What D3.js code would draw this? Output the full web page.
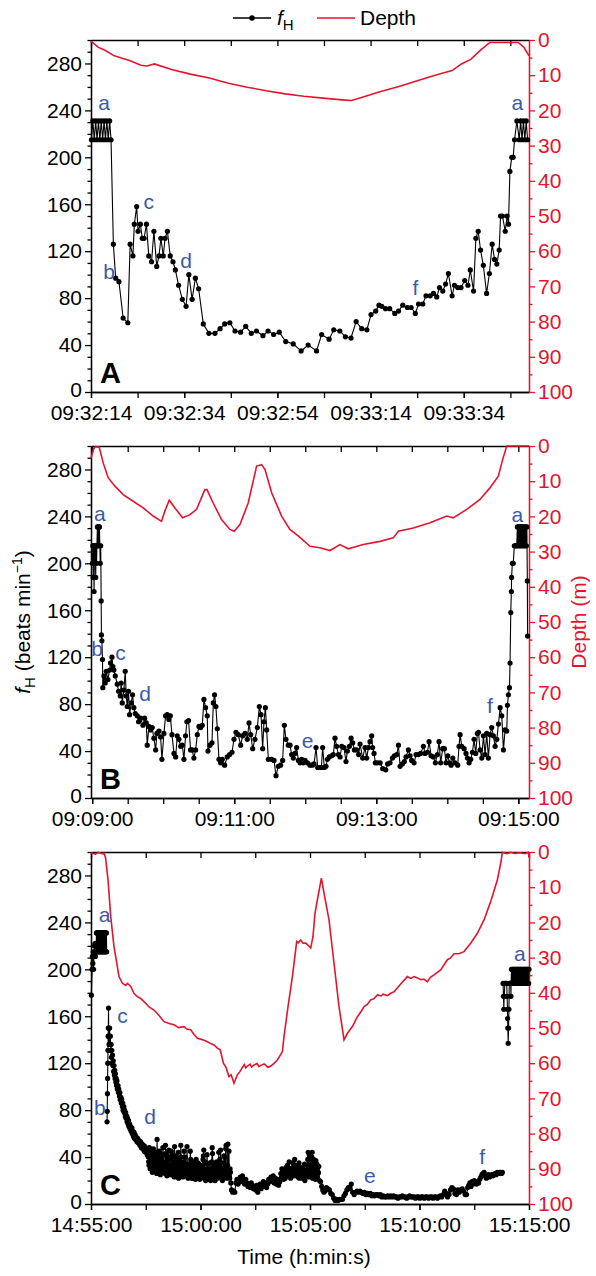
<!DOCTYPE html>
<html>
<head>
<meta charset="utf-8">
<script src="https://cdn.jsdelivr.net/npm/d3@7"></script>
<style>
body { margin: 0; background: #fff; }
svg text { font-family: "Liberation Sans", Arial, Helvetica, sans-serif; }
</style>
</head>
<body>
<div id="container"></div>
<script>
// tick labels (clock time) for each panel
var timeA = ["09:32:14", "09:32:34", "09:32:54", "09:33:14", "09:33:34"];
var timeB = ["09:09:00", "09:11:00", "09:13:00", "09:15:00"];
var timeC = ["14:55:00", "15:00:00", "15:05:00", "15:10:00", "15:15:00"];
var fhTicks = [0, 40, 80, 120, 160, 200, 240, 280];
var depthTicks = [0, 10, 20, 30, 40, 50, 60, 70, 80, 90, 100];

// heart rate [seconds after start, beats/min] ; null = gap in record
var hrA = [[0.1,215],[0.4,231],[0.7,215],[1.0,231],[1.3,215],[1.6,231],[1.9,215],[2.2,231],[2.5,215],[2.8,231],[3.1,215],[3.4,231],[3.7,215],[4.0,231],[4.3,215],
 [4.8,126],[5.3,97],[6.0,94],[6.9,63],[7.9,59],[8.4,126],[9.0,116],[9.3,143],[9.8,158],[10.1,137],[10.6,143],[11.0,131],[11.4,131],[11.9,143],[12.4,116],[13.0,111],[13.5,137],[14.1,107],[14.6,116],[15.0,131],[15.5,116],[15.9,131],[16.4,137],[17.0,116],[17.6,111],[18.1,104],[18.8,91],[19.6,79],[20.4,73],[21.0,100],[21.7,79],[22.4,97],[23.1,88],[24.1,58],[25.3,50],[26.6,50],[27.7,54],[28.7,58],[29.8,59],[30.9,52],[32.1,51],[33.2,56],[34.4,50],[35.5,52],[36.9,48],[38.0,52],[39.2,49],[40.4,51],[41.8,43],[43.4,41],[45.1,35],[46.6,40],[48.4,35],[49.5,49],[51.1,45],[52.1,53],[53.4,52],[54.6,47],[55.8,46],[56.9,60],[58.1,54],[59.2,53],[60.1,66],[61.1,69],[61.8,74],[62.4,73],[63.2,71],[64.1,71],[65.2,67],[66.0,69],[66.9,74],[67.9,72],[68.7,72],[69.6,67],[70.3,75],[71.2,75],[71.9,82],[72.8,82],[73.5,84],[74.2,81],[74.8,89],[75.5,86],[76.1,92],[76.7,101],[77.5,82],[78.0,91],[78.7,89],[79.4,89],[80.2,95],[80.9,91],[81.4,104],[82.1,86],[82.6,131],[83.1,137],[83.6,121],[84.2,108],[84.9,84],[85.5,101],[86.1,126],[86.6,113],[87.1,109],[87.6,121],[87.9,150],[88.3,150],[88.9,137],[89.3,150],[89.6,143],[89.9,188],[90.3,200],[90.6,200],[90.9,215],[91.4,231],[91.9,215],[92.2,231],[92.5,215],[92.8,231],[93.1,215],[93.4,231],[93.7,215]];

var hrB = [[0.2,200],[0.5,215],[0.9,188],[1.2,215],[1.6,176],[1.9,215],[2.3,200],[2.6,215],[3.0,188],[3.3,215],[3.7,200],[4.0,215],[4.4,231],[4.7,215],[5.1,231],[5.4,215],[5.8,231],[6.1,231],[6.5,215],[6.8,200],[7.2,215],[7.6,168],[7.8,139],[8.2,134],[8.7,118],[9.0,94],[9.9,104],[11.0,98],[11.9,108],[13.3,101],[14.7,109],[15.5,115],[16.7,120],[17.5,112],[18.3,109],[19.5,104],[21.2,97],[22.3,91],[23.7,87],[24.5,98],[25.4,81],[26.8,92],[27.9,108],[28.8,87],[29.6,78],[30.7,91],[31.6,71],[33.0,81],[34.1,88],[35.2,77],[36.4,72],[38.1,70],[39.2,65],[40.9,68],[42.9,62],[44.3,68],[45.7,64],[46.5,45],[47.9,61],[49.3,58],[50.7,60],[52.1,51],[53.6,41],[54.7,55],[56.4,57],[57.8,52],[58.9,33],[60.6,55],[62.0,70],[63.4,71],[64.8,67],[66.0,70],[67.4,54],[69.1,38],[70.5,35],[71.9,53],[73.3,50],[74.7,44],[76.1,45],[77.5,33],[78.9,53],[80.0,65],[81.4,66],[83.1,41],[84.5,41],[85.9,34],[87.4,41],[88.8,54],[90.2,61],[91.6,60],[93.0,62],[94.4,84],[95.8,77],[97.2,70],[97.8,40],[99.5,45],[101.2,47],[102.3,81],[103.4,88],[104.5,78],[105.7,59],[107.1,33],[108.5,30],[109.9,33],[111.9,28],[114.1,35],[116.1,37],[118.1,39],[119.8,50],[121.5,56],[123.4,54],[125.4,45],[127.1,53],[129.1,55],[131.0,50],[132.5,64],[133.9,54],[135.6,42],[137.5,50],[139.5,60],[141.2,78],[142.6,71],[144.0,42],[145.1,65],[146.3,77],[147.4,58],[148.8,33],[151.6,33],[153.6,32],[155.3,19],[157.2,27],[159.2,28],[160.9,32],[162.3,62],[163.7,50],[165.7,45],[167.1,45],[168.5,37],[169.9,34],[171.3,38],[172.7,43],[174.2,32],[175.6,30],[177.0,33],[178.4,30],[179.8,32],[181.8,30],[184.0,28],[186.0,28],[187.4,29],[189.1,43],[190.5,26],[192.5,26],[193.6,26],[194.7,43],[196.1,26],[197.5,27],[198.7,33],[200.3,35],[202.3,36],[203.7,37],[205.1,51],[206.5,44],[208.0,37],[209.4,35],[210.8,44],[212.7,43],[214.4,31],[215.6,40],[217.3,44],[218.7,51],[220.1,47],[221.5,41],[223.4,41],[225.1,37],[226.3,46],[228.5,34],[230.5,43],[231.9,34],[233.3,43],[234.7,48],[236.1,53],[236.9,43],[238.1,38],[239.2,30],[240.9,30],[243.2,30],[245.4,25],[248.0,24],[249.6,29],[251.6,30],[253.6,34],[255.3,36],[257.3,37],[258.7,45],[260.1,27],[262.0,29],[263.7,31],[265.1,35],[267.1,41],[268.5,36],[269.9,32],[271.9,30],[273.6,37],[275.6,37],[277.5,38],[279.8,44],[281.2,38],[283.2,39],[284.6,48],[286.3,36],[288.2,35],[289.9,30],[291.6,37],[293.0,48],[294.4,30],[296.1,42],[297.5,42],[298.9,30],[300.4,36],[301.8,30],[303.2,28],[304.6,34],[306.5,30],[308.8,28],[309.9,44],[310.8,54],[312.2,44],[314.2,42],[315.8,38],[317.0,34],[318.4,30],[319.8,33],[321.2,39],[322.6,50],[324.0,38],[325.4,55],[326.3,56],[327.7,41],[329.1,34],[330.5,53],[331.9,37],[333.3,55],[334.7,34],[336.1,54],[337.5,60],[338.9,53],[340.4,44],[341.8,50],[343.2,63],[344.6,77],[346.0,70],[347.4,41],[348.8,58],[350.2,57],[350.8,79],[351.6,88],[352.5,94],[353.0,115],[353.6,158],[354.1,176],[354.3,188],[354.9,200],[355.7,200],[356.6,215],[357.4,215],[358.2,215],[358.6,215],[359.2,231],[359.6,215],[360.0,231],[360.4,215],[360.8,231],[361.2,215],[361.6,231],[362.0,215],[362.4,231],[362.8,215],[363.2,231],[363.6,215],[364.0,231],[364.4,215],[364.8,231],[365.2,215],[365.6,231],[366.0,215],[366.4,231],[366.8,215],[367.2,231],[367.6,185],[367.8,138]];

var hrC = [[1,178],[3,200],[4,211],[5,205],[6,215],[7,200],[8,211],[9,220],[10,215],[11,222],[12,211],[13,222],[14,215],[15,231],[15.8,215],[16.6,231],[17.4,215],[18.2,231],[19,215],[19.8,231],[20.6,215],[21.4,231],[22.2,215],[23,231],[23.8,215],[24.6,231],[25.4,215],[26.2,231],[27,215],[27.8,231],[28.6,215],[29.4,231],[30.2,215],[31,231],[31.8,215],[32.6,231],[33.4,215],[34.2,231],[35,215],[35.8,231],[36.6,215],[37.4,231],[38.2,215],[39,231],[39.8,215],[40.6,231],[41.4,215],[42.2,231],[43,215],[43.5,null],
 [44,70],[44.5,79],[45,94],[45.5,107],[46,120],[46.5,131],[47,143],[47.5,150],[48,167],[48.5,143],[49,150],[49.5,136],[50,143],[51,150],[52,136],[53,143],[54,131],[55,136],[56,125],[57,131],[58,120],[59,127],[60,118],[61,122],[62,113],[63,118],[64,110],[65,114],[66,107],[67,111],[68,104],[69,107],[70,101],[71,105],[72,98],[74,101],[75,95],[76,98],[78,92],[79,95],[80,89],[82,91],[83,86],[84,89],[86,83],[87,86],[88,80],[90,83],[91,78],[92,80],[94,75],[95,78],[96,73],[98,75],[99,70],[100,73],[102,68],[103,71],[104,66],[106,68],[107,64],[108,66],[110,62],[112,65],[113,60],[115,62],[116,58],[118,61],[119,56],[121,59],[122,55],[124,57],[126,53],[128,56],[130,52],[132,54],[134,50],[136,53],[138,48],[140,51],[142,47],[144,50],[146,45],[148,49],[150,44],[152,47],[154,42],[155,46],
 [157,40],[159,33],[161,45],[163,36],[165,30],[167,42],[169,35],[171,47],[173,31],[175,38],[177,28],[179,41],[181,55],[183,33],[185,37],[187,27],[189,44],[191,34],[193,29],[195,40],[197,48],[199,30],[201,36],[203,26],[205,43],[207,33],[209,39],[211,28],[213,46],[215,32],[217,25],[219,38],[221,30],[223,42],[225,27],[227,35],[229,49],[231,29],[233,24],[235,37],[237,31],[239,44],[241,26],[243,33],[245,28],[247,40],[249,24],[251,35],[253,30],[255,45],[257,27],[259,32],[261,25],[263,49],[265,29],[267,34],[269,23],[271,31],[273,38],[275,26],[277,30],[279,22],[281,36],[283,28],[285,25],[287,33],[289,24],[291,29],[293,35],[295,23],[297,27],[299,31],[301,22],[303,26],[305,30],[307,38],[309,46],[311,25],[313,22],[315,29],[317,24],[319,34],[321,21],[323,27],[325,23],[327,30],[329,25],[331,36],[333,43],[335,24],[337,21],[339,28],[341,22],[343,30],[345,26],[347,34],[349,23],[351,29],[353,38],[355,46],[357,25],[359,21],[361,27],[363,24],[365,31],[367,40],[369,47],[371,26],[373,30],[375,51],[377,28],[379,24],[381,30],[383,18],
 [158,36],[160,48],[162,30],[164,41],[166,35],[168,27],[170,39],[172,33],[174,44],[176,30],[178,36],[180,26],[182,40],[184,30],[186,45],[188,33],[190,25],[192,38],[194,31],[196,27],[198,42],[200,29],[202,34],[204,50],[206,28],[208,24],[210,36],[212,31],[214,40],[216,27],[218,33],[220,45],[222,25],[224,31],[226,38],[228,23],[230,33],[232,41],[234,28],[236,25],[238,34],[240,22],[242,39],[244,30],[246,50],[248,27],[250,31],[252,23],[254,36],[256,29],[258,40],[260,24],[262,28],[264,34],[266,22],[268,30],[270,26],[272,45],[274,28],[276,22],[278,33],[280,27],[282,24],[284,30],[286,21],[288,38],[290,26],[292,22],[294,29],[296,34],[298,21],[300,27],[302,33],[304,23],[306,28],[308,41],[310,30],[312,36],[314,20],[316,27],[318,42],[320,24],[322,30],[324,22],[326,35],[328,20],[330,27],[332,48],[334,29],[336,24],[338,33],[340,20],[342,26],[344,36],[346,22],[348,29],[350,44],[352,24],[354,31],[356,27],[358,35],[360,20],[362,25],[364,41],[366,23],[368,29],[370,50],[372,22],[374,33],[376,26],[378,45],[380,22],[382,27],
 [385,12],[388,10],[391,11],[394,10],[397,18],[400,21],[403,17],[406,20],[409,23],[412,19],[415,24],[418,20],[421,17],[424,21],[427,18],[430,15],[433,17],[436,14],[439,18],[442,16],[445,13],[448,15],[451,12],[454,16],[457,10],[460,14],[463,17],[466,13],[469,16],[472,19],[475,15],[478,18],[481,14],[484,17],[487,21],[490,19],[493,23],[496,20],[499,24],[502,18],[505,22],[508,17],[511,21],[514,16],[517,19],[520,26],[523,30],[526,24],[529,28],[532,22],[535,27],[538,33],[541,25],[544,30],[547,22],[550,28],[553,35],[556,24],[559,29],[562,33],[565,26],[568,31],[571,22],[574,28],[577,23],[580,30],[583,25],[586,20],[589,27],[592,33],[595,44],[597,29],[599,37],[601,24],[603,31],[605,40],[607,22],[609,33],[611,26],[613,36],[615,21],[617,28],[619,34],[621,22],[623,27],
 [522,23],[525,29],[528,21],[531,26],[534,31],[537,24],[540,29],[543,36],[546,26],[549,24],[552,31],[555,27],[558,38],[561,25],[564,30],[567,23],[570,35],[573,26],[576,31],[579,22],[582,27],[585,34],[588,24],[591,29],[594,38],[596,23],[598,42],[600,27],[602,35],[604,26],[606,44],[608,28],[610,38],[612,24],[614,30],[616,37],[618,25],[620,30],[622,26],[624,32],
 [626,20],[629,19],[632,15],[635,12],[638,10],[641,11],[645,14],[649,13],[653,12],[657,9],[661,8],[665,5],[669,3],[673,4],[677,3],[681,4],[685,4],[689,4],[693,7],[697,9],[701,12],[705,14],[709,13],[713,17],[717,10],[721,8],[725,10],[729,11],[733,10],[737,11],[741,10],[745,9],[749,10],[753,8],[757,9],[761,8],[765,9],[769,7],[773,8],[777,7],[781,8],[785,8],[789,7],[793,8],[797,6],[801,7],[805,6],[809,6],[813,7],[817,6],[821,7],[825,6],[829,7],[833,6],[837,6],[841,5],[845,6],[849,6],[853,7],[857,6],[861,6],[865,5],[869,6],[873,7],[877,6],[881,6],[885,6],[889,5],[893,6],[897,6],[901,5],[905,6],[909,6],[913,5],[917,6],[921,6],[925,5],[929,6],[933,6],[937,5],[941,6],[945,6],[949,5],[953,6],[957,7],[961,6],[965,8],[969,11],[973,9],[977,6],[981,8],[985,12],[989,14],[993,13],[997,9],[1001,8],[1005,12],[1009,10],[1013,12],[1017,13],[1021,11],[1025,8],[1029,8],[1032,14],[1035,16],[1038,18],[1041,15],[1044,19],[1047,17],[1050,20],[1053,18],[1056,17],[1059,19],[1062,18],[1065,21],[1068,23],[1071,25],[1074,26],[1077,27],[1080,24],[1083,22],[1086,23],[1089,25],[1092,23],[1095,24],[1098,25],[1101,24],[1104,25],[1107,26],[1110,25],[1113,27],[1116,26],[1119,27],[1122,27],[1125,26],[1127,27],[1128,null],
 [1129,188],[1130,177],[1131,166],[1132,177],[1134,188],[1137,188],[1139,188],[1140,177],[1141,166],[1141.5,158],[1142,150],[1143,137],[1144,150],[1145,166],[1146,188],[1148,188],[1150,188],[1150.5,177],[1151,188],[1152,200],[1153,188],[1154,200],[1155,188],[1156,200],[1157,188],[1158,200],[1159,188],[1160,200],[1161,188],[1162,200],[1163,188],[1164,200],[1165,188],[1166,200],[1167,188],[1168,200],[1169,188],[1170,200],[1171,188],[1172,200],[1173,188],[1174,200],[1175,188],[1176,200],[1177,188],[1178,200],[1179,188],[1180,200],[1181,188],[1182,200],[1183,188],[1184,200],[1185,188],[1186,200],[1187,188],[1188,200],[1189,188],[1190,200],[1191,188],[1192,200],[1193,188],[1194,200],[1195,188],[1196,200],[1197,188],[1198,200],[1199,188],[1200,200]];

// depth [seconds after start, m]
var depthA = [[0,0.4],[1.6,2.1],[3,2.9],[5,4.5],[6.7,5.2],[8.3,5.8],[10.7,7.2],[12,7.4],[13.6,6.8],[17.3,8.4],[21.3,9.7],[25.4,10.8],[29.5,12.3],[33.5,13.4],[37.6,14.4],[41.7,15.3],[45.7,16],[49.8,16.5],[53.9,17],[55.9,17.2],[57.9,16.4],[62,14.7],[66.1,13.2],[70.2,11.5],[74.2,9.9],[77.5,8.7],[79.5,6.8],[81.5,5.5],[83.6,2.9],[85.6,0.7],[86.4,0.7],[91.7,0.7],[92.9,2.1],[94,4.5]];
var depthB = [[-1,3.5],[1,1],[2.3,0.3],[5.9,0.3],[9.3,4.8],[13.5,9],[19.2,11.4],[26.2,13.8],[34.6,15.7],[43.1,17.6],[51.5,19.9],[58.6,21.4],[61.4,18.5],[65.1,15.4],[69.9,17.6],[76.4,20.4],[82.6,19.5],[88.2,18],[95.2,12.4],[97,12.4],[102.2,16.2],[109.3,20.9],[116.4,23.7],[120,24.2],[124.8,22.3],[131.8,16.2],[138.9,5.7],[143.1,5.3],[146,6.7],[151.6,13.3],[160,19.9],[167,23.7],[174.3,25.6],[184,28.5],[192.4,28.9],[200.9,29.7],[209.3,28],[216.3,29.2],[229,28],[243.1,27.1],[254.4,26.1],[258.6,24.2],[271.3,23.3],[285.4,21.8],[299.5,19.9],[305,20.4],[316.4,18],[327.6,15.2],[336,11.9],[343.1,8.6],[346.8,3.8],[350.2,0],[361.4,0],[369,0]];
var depthC = [[0,0.3],[12,0.6],[20,0.1],[30,0.5],[35.6,0.3],[40,1.7],[46.6,7.9],[54,18.3],[63,26.9],[76.7,35.4],[86,37.3],[95,37.9],[100,37.3],[108.8,38.2],[118,40.2],[127,41.1],[136,41.6],[145.2,42.5],[160,44.1],[172.6,44.9],[186,46.4],[200,48.2],[214,48.7],[227.4,49.1],[240,49.9],[254.8,49.6],[262,50.3],[273,50.5],[283,51.9],[291.5,52.9],[305,53.3],[318.9,53.9],[330,54.5],[338,54.9],[346.3,55.7],[354,56.2],[362.7,60],[370,61.2],[378,63.8],[384,63.3],[391.8,65.7],[401,63.3],[408,62.4],[414.8,61.2],[420,60.4],[424,61.3],[428.5,60.8],[436,60.3],[440,61.1],[446.6,60.5],[455,60.1],[460,60.9],[474,60.2],[480,60.7],[485,61.2],[492.3,60.8],[500,60.2],[510.7,59.1],[524.4,56.7],[528.8,52.4],[539.8,43.9],[551.8,35.4],[563.6,25.4],[568,25.8],[574.5,25],[581,25.9],[588.2,25.9],[595,26.5],[601.9,27.3],[608.2,24],[613.7,17.4],[621.9,12.6],[631.2,7.4],[638.4,11.7],[652.1,19.3],[665.8,31.6],[679.5,43.9],[693.2,53.4],[702.5,51.5],[716.2,49.6],[729.9,46.8],[740,45.3],[748,43.9],[757,43.3],[766.3,42],[775,41.7],[784.7,40.6],[795,40.9],[800,40.4],[812,40.8],[820,40.2],[830.1,39.7],[848.5,37.5],[866.8,35.4],[876,35.9],[884.9,35.4],[893,35.7],[903.3,36.3],[912,36.1],[921.6,36.8],[930,35.6],[939.7,34.9],[958,33.5],[976.4,30.6],[985,30.1],[994.5,28.9],[1008,28.9],[1021.9,28.3],[1040.3,25.9],[1058.6,23.1],[1076.7,19.3],[1095,14.1],[1113.4,7.9],[1122.5,3.2],[1127.1,0.1],[1140,0.5],[1150,0.1],[1160,0.4],[1175,0.2],[1190,0.5],[1198,0.1],[1200,1.5]];

// phase labels [letter, seconds, beats/min]
var notesA = [["a",2.8,245],["b",3.9,101],["c",12.4,161],["d",20.4,110],["f",69.6,87],["a",91.5,245]];
var notesB = [["a",6.5,241],["b",4.2,126],["c",24,122],["d",44.8,87],["e",182,47],["f",336,77],["a",359.2,240]];
var notesC = [["a",37,245],["b",24,81],["c",86,159],["d",162,73],["e",764,23],["f",1072,39],["a",1175,212]];

const W = 596, H = 1276;
const LEFT = 91, RIGHT = 529;
const RED = "#e5142e", BLUE = "#3a5aa6";
const FS = 21;

const svg = d3.select("#container").append("svg")
	.attr("width", W)
	.attr("height", H);

const parse = d3.utcParse("%H:%M:%S");

const panels = [
	{letter: "A", top: 40, bottom: 392, t0: "09:32:14", start: "09:32:14", end: "09:33:48", labels: timeA, minor: 10, hr: hrA, depth: depthA, notes: notesA},
	{letter: "B", top: 446, bottom: 798, t0: "09:09:00", start: "09:08:59", end: "09:15:09", labels: timeB, minor: 30, hr: hrB, depth: depthB, notes: notesB},
	{letter: "C", top: 852, bottom: 1204, t0: "14:55:00", start: "14:55:00", end: "15:15:00", labels: timeC, minor: 150, hr: hrC, depth: depthC, notes: notesC}
];

function styleAxis(g, color) {
	g.selectAll("path.domain").attr("stroke", color).attr("stroke-width", 1.3);
	g.selectAll(".tick line").attr("stroke", color).attr("stroke-width", 1.3);
	g.selectAll(".tick text").attr("fill", color).attr("font-size", FS).attr("font-family", null);
}

panels.forEach(function(p) {
	const x = d3.scaleUtc()
		.domain([parse(p.start), parse(p.end)])
		.range([LEFT, RIGHT]);
	const y = d3.scaleLinear().domain([0, 300]).range([p.bottom, p.top]);
	const yd = d3.scaleLinear().domain([0, 100]).range([p.top, p.bottom]);
	const base = parse(p.t0).getTime();
	const at = s => new Date(base + s * 1000);
	const hr = p.hr.slice().sort((a, b) => a[0] - b[0]);

	const majors = p.labels.map(parse);
	const minors = d3.range(majors[0].getTime(), parse(p.end).getTime() + 1, p.minor * 1000).map(ms => new Date(ms));

	const g = svg.append("g");

	// top border with inward ticks
	g.append("g")
		.attr("transform", `translate(0,${p.top})`)
		.call(d3.axisTop(x).tickValues(minors).tickSize(-6).tickSizeOuter(0).tickFormat(""))
		.call(s => styleAxis(s, "#000"));

	// bottom axis
	g.append("g")
		.attr("transform", `translate(0,${p.bottom})`)
		.call(d3.axisBottom(x).tickValues(minors).tickSize(6).tickSizeOuter(0).tickFormat(""))
		.call(s => styleAxis(s, "#000"));
	g.append("g")
		.attr("transform", `translate(0,${p.bottom})`)
		.call(d3.axisBottom(x).tickValues(majors).tickSize(6).tickSizeOuter(0).tickPadding(7).tickFormat(d3.utcFormat("%H:%M:%S")))
		.call(s => styleAxis(s, "#000"));

	// left axis
	g.append("g")
		.attr("transform", `translate(${LEFT},0)`)
		.call(d3.axisLeft(y).tickValues(d3.range(0, 301, 10).filter(v => v % 40)).tickSize(3.5).tickSizeOuter(0).tickFormat(""))
		.call(s => styleAxis(s, "#000"));
	g.append("g")
		.attr("transform", `translate(${LEFT},0)`)
		.call(d3.axisLeft(y).tickValues(fhTicks).tickSize(6).tickSizeOuter(0).tickPadding(3))
		.call(s => styleAxis(s, "#000"))
		.call(s => s.selectAll(".tick text").filter(d => d === 0).attr("dy", "0.2em"));

	// right depth axis
	g.append("g")
		.attr("transform", `translate(${RIGHT},0)`)
		.call(d3.axisRight(yd).tickValues(d3.range(5, 100, 10)).tickSize(3.5).tickSizeOuter(0).tickFormat(""))
		.call(s => styleAxis(s, RED));
	g.append("g")
		.attr("transform", `translate(${RIGHT},0)`)
		.call(d3.axisRight(yd).tickValues(depthTicks).tickSize(6).tickSizeOuter(0).tickPadding(3))
		.call(s => styleAxis(s, RED));

	// depth trace
	g.append("path")
		.datum(p.depth)
		.attr("fill", "none")
		.attr("stroke", RED)
		.attr("stroke-width", 1.6)
		.attr("d", d3.line().x(d => x(at(d[0]))).y(d => yd(d[1])));

	// heart rate trace
	g.append("path")
		.datum(hr)
		.attr("fill", "none")
		.attr("stroke", "#000")
		.attr("stroke-width", 1.1)
		.attr("d", d3.line().defined(d => d[1] != null).x(d => x(at(d[0]))).y(d => y(d[1])));
	g.selectAll("circle.hr")
		.data(hr.filter(d => d[1] != null))
		.enter().append("circle")
		.attr("class", "hr")
		.attr("cx", d => x(at(d[0])))
		.attr("cy", d => y(d[1]))
		.attr("r", 2.6)
		.attr("fill", "#000");

	// phase letters
	g.selectAll("text.note")
		.data(p.notes)
		.enter().append("text")
		.attr("class", "note")
		.attr("x", d => x(at(d[1])))
		.attr("y", d => y(d[2]))
		.attr("text-anchor", "middle")
		.attr("dominant-baseline", "middle")
		.attr("font-size", FS)
		.attr("fill", BLUE)
		.text(d => d[0]);

	// panel letter
	g.append("text")
		.attr("x", LEFT + 9)
		.attr("y", p.bottom - 9)
		.attr("font-size", 29)
		.attr("font-weight", "bold")
		.text(p.letter);
});

// y titles
const yTitle = svg.append("text")
	.attr("transform", "translate(30,622) rotate(-90)")
	.attr("text-anchor", "middle")
	.attr("font-size", FS);
yTitle.append("tspan").attr("font-style", "italic").text("f");
yTitle.append("tspan").attr("font-size", 15).attr("dy", 5).text("H");
yTitle.append("tspan").attr("dy", -5).text(" (beats min");
yTitle.append("tspan").attr("font-size", 14).attr("dy", -8).text("\u22121");
yTitle.append("tspan").attr("dy", 8).text(")");

svg.append("text")
	.attr("transform", "translate(586,622) rotate(-90)")
	.attr("text-anchor", "middle")
	.attr("font-size", FS)
	.attr("fill", RED)
	.text("Depth (m)");

svg.append("text")
	.attr("x", 304)
	.attr("y", 1264)
	.attr("text-anchor", "middle")
	.attr("font-size", FS)
	.text("Time (h:min:s)");

// legend
const lg = svg.append("g").attr("transform", "translate(0,18)");
lg.append("line").attr("x1", 233).attr("x2", 271).attr("stroke", "#000").attr("stroke-width", 1.3);
lg.append("circle").attr("cx", 252).attr("r", 2.8).attr("fill", "#000");
const lt = lg.append("text").attr("x", 277).attr("y", 7).attr("font-size", FS);
lt.append("tspan").attr("font-style", "italic").text("f");
lt.append("tspan").attr("font-size", 15).attr("dy", 5).text("H");
lg.append("line").attr("x1", 317).attr("x2", 355).attr("stroke", RED).attr("stroke-width", 1.6);
lg.append("text").attr("x", 360).attr("y", 7).attr("font-size", FS).text("Depth");
</script>
</body>
</html>
